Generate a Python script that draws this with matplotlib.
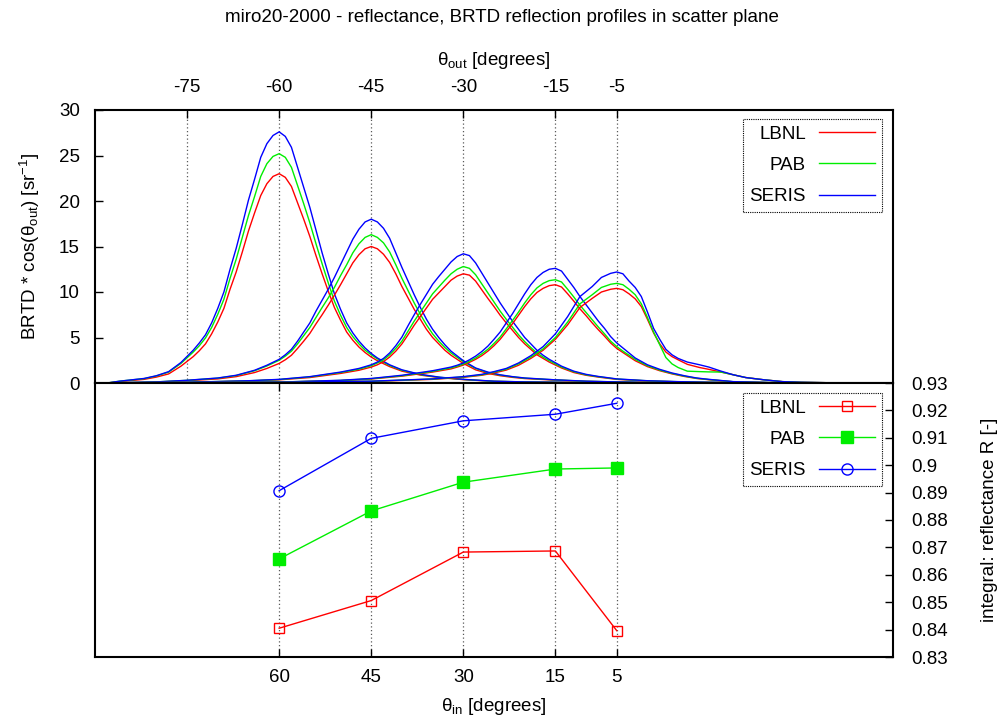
import numpy as np
import matplotlib
matplotlib.use("Agg")
import matplotlib.pyplot as plt
from matplotlib import ticker

plt.rcParams['font.family'] = ['Liberation Sans', 'DejaVu Sans']
plt.rcParams['font.size'] = 13.5
plt.rcParams['mathtext.default'] = 'regular'
plt.rcParams['axes.unicode_minus'] = False

# ---- BRTD profiles (theta_out in degrees, BRTD*cos(theta_out) in 1/sr) ----
out_60 = [-88, -86, -84, -82, -80, -78, -76, -74,
          -73, -72, -71, -70, -69, -68, -67, -66, -65, -64,
          -63, -62, -61, -60, -59, -58, -57, -56, -55, -54,
          -53, -52, -51, -50, -49, -48, -47, -46, -45, -44,
          -42, -40, -37, -34, -30, -25, -20, -10, 0]
seris_60 = [0.0, 0.2, 0.35, 0.5, 0.8, 1.25, 2.25, 3.6,
            4.4, 5.3, 6.6, 8.2, 10.0, 12.5, 14.8, 17.4, 20.1, 22.4,
            24.8, 26.3, 27.2, 27.6, 27.1, 25.9, 23.7, 21.5, 19.3, 16.8,
            14.3, 12.0, 9.8, 8.1, 6.6, 5.5, 4.6, 3.85, 3.25, 2.75,
            2.0, 1.45, 0.95, 0.65, 0.4, 0.2, 0.12, 0.04, 0.0]
pab_60 = [0.0, 0.2, 0.34, 0.48, 0.77, 1.2, 2.15, 3.4,
          4.1, 4.95, 6.1, 7.55, 9.2, 11.5, 13.6, 16.0, 18.4, 20.5,
          22.7, 24.1, 24.9, 25.2, 24.8, 23.7, 21.7, 19.7, 17.6, 15.3,
          13.1, 11.0, 9.0, 7.45, 6.1, 5.1, 4.3, 3.6, 3.1, 2.65,
          1.93, 1.4, 0.92, 0.63, 0.39, 0.19, 0.12, 0.04, 0.0]
lbnl_60 = [0.0, 0.15, 0.28, 0.4, 0.65, 1.0, 1.85, 2.9,
           3.55, 4.3, 5.4, 6.7, 8.2, 10.3, 12.2, 14.4, 16.7, 18.7,
           20.6, 21.9, 22.7, 23.0, 22.6, 21.6, 19.8, 18.0, 16.1, 14.0,
           12.0, 10.1, 8.3, 6.9, 5.6, 4.7, 3.95, 3.35, 2.85, 2.45,
           1.8, 1.3, 0.87, 0.6, 0.37, 0.18, 0.11, 0.04, 0.0]

out_45 = [-85, -80, -75, -70, -67, -64, -62, -60,
          -59, -58, -57, -56, -55, -54, -53, -52, -51, -50,
          -49, -48, -47, -46, -45, -44, -43, -42, -41, -40,
          -39, -38, -37, -36, -35, -34, -33, -32,
          -30, -28, -26, -24, -22, -20, -15, -10, -5, 0, 10, 20]
seris_45 = [0.05, 0.12, 0.3, 0.55, 0.85, 1.4, 1.95, 2.6,
            3.1, 3.7, 4.6, 5.6, 6.6, 7.9, 9.1, 10.3, 11.6, 13.0,
            14.4, 15.8, 16.9, 17.7, 18.0, 17.7, 17.0, 15.9, 14.3, 12.7,
            11.2, 9.7, 8.3, 7.0, 5.9, 5.0, 4.2, 3.5,
            2.45, 1.65, 1.2, 0.9, 0.7, 0.55, 0.35, 0.2, 0.12, 0.06, 0.02, 0.0]
pab_45 = [0.05, 0.12, 0.29, 0.53, 0.82, 1.35, 1.87, 2.5,
          2.95, 3.5, 4.3, 5.2, 6.1, 7.2, 8.3, 9.35, 10.5, 11.8,
          13.0, 14.3, 15.3, 16.0, 16.3, 16.0, 15.4, 14.4, 13.0, 11.5,
          10.15, 8.8, 7.55, 6.4, 5.4, 4.6, 3.9, 3.3,
          2.35, 1.6, 1.15, 0.87, 0.68, 0.53, 0.34, 0.19, 0.12, 0.06, 0.02, 0.0]
lbnl_45 = [0.04, 0.1, 0.25, 0.45, 0.7, 1.15, 1.6, 2.15,
           2.55, 3.05, 3.8, 4.6, 5.45, 6.5, 7.5, 8.55, 9.65, 10.8,
           12.0, 13.2, 14.1, 14.75, 15.0, 14.75, 14.15, 13.25, 12.0, 10.6,
           9.35, 8.1, 7.0, 5.9, 5.0, 4.3, 3.6, 3.05,
           2.15, 1.45, 1.05, 0.8, 0.62, 0.49, 0.31, 0.18, 0.11, 0.05, 0.02, 0.0]

out_30 = [-85, -75, -65, -60, -55, -50, -47, -45, -44,
          -43, -42, -41, -40, -39, -38, -37, -36, -35, -34,
          -33, -32, -31, -30, -29, -28, -27, -26, -25, -24,
          -23, -22, -21, -20, -19, -18, -17, -16,
          -14, -12, -10, -8, -5, 0, 5, 10, 20, 30]
seris_30 = [0.02, 0.08, 0.25, 0.4, 0.7, 1.2, 1.6, 2.0, 2.3,
            2.7, 3.3, 4.1, 5.05, 6.3, 7.5, 8.65, 9.75, 10.85, 11.7,
            12.5, 13.3, 13.9, 14.2, 14.0, 13.2, 12.1, 11.0, 9.9, 8.8,
            7.8, 6.8, 5.9, 5.0, 4.3, 3.6, 3.05, 2.6,
            1.85, 1.3, 0.95, 0.72, 0.45, 0.25, 0.15, 0.08, 0.03, 0.0]
pab_30 = [0.02, 0.08, 0.24, 0.38, 0.67, 1.15, 1.52, 1.9, 2.2,
          2.55, 3.1, 3.8, 4.6, 5.7, 6.8, 7.8, 8.8, 9.8, 10.55,
          11.3, 12.0, 12.5, 12.8, 12.6, 11.9, 10.9, 9.9, 8.9, 7.9,
          7.0, 6.15, 5.3, 4.55, 3.9, 3.3, 2.85, 2.45,
          1.75, 1.24, 0.9, 0.69, 0.43, 0.24, 0.14, 0.08, 0.03, 0.0]
lbnl_30 = [0.02, 0.07, 0.22, 0.35, 0.6, 1.05, 1.4, 1.75, 2.0,
           2.35, 2.85, 3.5, 4.3, 5.3, 6.35, 7.3, 8.25, 9.2, 9.9,
           10.6, 11.3, 11.75, 12.0, 11.85, 11.2, 10.25, 9.3, 8.4, 7.45,
           6.6, 5.8, 5.0, 4.3, 3.7, 3.1, 2.7, 2.3,
           1.65, 1.15, 0.85, 0.65, 0.4, 0.22, 0.13, 0.07, 0.03, 0.0]

out_15 = [-80, -70, -60, -50, -45, -40, -35, -32,
          -31, -30, -29, -28, -27, -26, -25, -24, -23, -22,
          -21, -20, -19, -18, -17, -16, -15, -14, -13, -12,
          -11, -10, -9, -8, -7, -6, -5, -4,
          -2, 0, 2, 4, 6, 8, 10, 14, 20, 30]
seris_15 = [0.02, 0.05, 0.1, 0.3, 0.5, 0.85, 1.35, 1.75,
            1.95, 2.2, 2.55, 2.95, 3.45, 4.05, 4.8, 5.6, 6.6, 7.6,
            8.7, 9.8, 10.8, 11.6, 12.15, 12.5, 12.6, 12.3, 11.4, 10.5,
            9.5, 8.6, 7.7, 6.8, 6.0, 5.1, 4.4, 3.85,
            2.75, 2.0, 1.5, 1.1, 0.8, 0.55, 0.4, 0.15, 0.05, 0.0]
pab_15 = [0.02, 0.05, 0.1, 0.28, 0.47, 0.8, 1.28, 1.66,
          1.85, 2.08, 2.4, 2.75, 3.2, 3.7, 4.35, 5.05, 5.95, 6.85,
          7.8, 8.8, 9.7, 10.45, 10.95, 11.25, 11.35, 11.1, 10.3, 9.45,
          8.55, 7.75, 6.95, 6.15, 5.4, 4.6, 4.0, 3.5,
          2.6, 1.9, 1.42, 1.05, 0.76, 0.52, 0.38, 0.14, 0.05, 0.0]
lbnl_15 = [0.02, 0.04, 0.09, 0.26, 0.44, 0.75, 1.2, 1.55,
           1.75, 1.97, 2.27, 2.6, 3.0, 3.5, 4.1, 4.8, 5.65, 6.5,
           7.45, 8.4, 9.25, 9.95, 10.4, 10.7, 10.8, 10.55, 9.8, 9.0,
           8.15, 7.4, 6.6, 5.85, 5.15, 4.4, 3.8, 3.35,
           2.45, 1.8, 1.35, 1.0, 0.72, 0.5, 0.36, 0.13, 0.04, 0.0]

out_5 = [-80, -60, -45, -35, -30, -27, -25, -23, -21, -19,
         -17, -15, -13, -11, -9, -7.5, -6, -5, -4, -3,
         -2, -1, 0, 1, 2, 3, 4, 5, 6.5, 8.5,
         10, 12, 14, 16, 19, 22, 25, 32]
seris_5 = [0.02, 0.08, 0.2, 0.45, 0.7, 0.95, 1.25, 1.6, 2.2, 3.0,
           4.0, 5.4, 7.3, 9.5, 10.6, 11.6, 12.05, 12.2, 12.0, 11.2,
           10.5, 9.5, 7.8, 6.0, 4.8, 3.7, 3.1, 2.7, 2.3, 2.0,
           1.75, 1.3, 0.9, 0.6, 0.35, 0.15, 0.08, 0.0]
pab_5 = [0.02, 0.08, 0.19, 0.43, 0.67, 0.9, 1.2, 1.52, 2.1, 2.85,
         3.75, 5.0, 6.7, 8.7, 9.7, 10.5, 10.85, 10.95, 10.8, 10.3,
         9.7, 8.7, 7.2, 5.6, 4.2, 2.8, 2.1, 1.7, 1.3, 1.25,
         1.22, 1.2, 0.9, 0.6, 0.35, 0.15, 0.08, 0.0]
lbnl_5 = [0.02, 0.07, 0.17, 0.4, 0.62, 0.85, 1.1, 1.42, 1.95, 2.7,
          3.6, 4.8, 6.4, 8.3, 9.3, 10.0, 10.3, 10.4, 10.25, 9.8,
          9.25, 8.4, 7.0, 5.5, 4.3, 3.4, 2.9, 2.55, 2.05, 1.7,
          1.5, 1.2, 0.9, 0.6, 0.35, 0.15, 0.08, 0.0]

# ---- integral reflectance ----
theta_in = [60, 45, 30, 15, 5]
R_lbnl = [0.8405, 0.8506, 0.8683, 0.8687, 0.8396]
R_pab = [0.8658, 0.8833, 0.8938, 0.8986, 0.8990]
R_seris = [0.8907, 0.9098, 0.9162, 0.9186, 0.9226]

top_ticks = [-75, -60, -45, -30, -15, -5]

red, green, blue = '#ff0000', '#00ee00', '#0000ff'
labels = ['LBNL', 'PAB', 'SERIS']

fig = plt.figure(figsize=(10.04, 7.22), dpi=100)
ax1 = fig.add_axes([95 / 1004, (722 - 383) / 722, 798 / 1004, 273 / 722])
ax2 = fig.add_axes([95 / 1004, (722 - 657) / 722, 798 / 1004, 274 / 722])

# top panel: profiles
outs = [out_60, out_45, out_30, out_15, out_5]
series = [(lbnl_60, pab_60, seris_60), (lbnl_45, pab_45, seris_45), (lbnl_30, pab_30, seris_30),
          (lbnl_15, pab_15, seris_15), (lbnl_5, pab_5, seris_5)]
for x, ys in zip(outs, series):
    for y, c in zip(ys, [red, green, blue]):
        ax1.plot(x, y, color=c, lw=1.0)
for xv in top_ticks:
    ax1.axvline(xv, color='0.35', ls=(0, (1, 2)), lw=0.9, zorder=0)

ax1.set_xlim(-90, 40)
ax1.set_ylim(0, 30)
ax1.xaxis.tick_top()
ax1.xaxis.set_label_position('top')
ax1.set_xticks(top_ticks)
ax1.set_yticks(np.arange(0, 31, 5))
ax1.tick_params(axis='x', direction='in', length=6, width=1, pad=10, top=True, bottom=False)
ax1.tick_params(axis='y', direction='in', length=6, width=1, pad=11, left=True, right=False)
ax1.set_xlabel('θ$_{out}$ [degrees]', labelpad=10)
ax1.set_ylabel('BRTD * cos(θ$_{out}$) [sr$^{-1}$]', labelpad=12)

h = [plt.Line2D([], [], color=c, lw=1.0) for c in [red, green, blue]]
leg1 = ax1.legend(h, labels, loc='upper right', bbox_to_anchor=(0.9862, 0.967), borderaxespad=0,
                  markerfirst=False, handlelength=3.0, fancybox=False, framealpha=1,
                  edgecolor='k', labelspacing=0.75, borderpad=0.35, handletextpad=0.7)
leg1.get_frame().set_linestyle((0, (1, 1)))
leg1.get_frame().set_linewidth(0.8)

# bottom panel: integral reflectance
ax2.plot(theta_in, R_lbnl, color=red, lw=1.0, marker='s', ms=7, mfc='none', mec=red, mew=1.0,
         label='LBNL')
ax2.plot(theta_in, R_pab, color=green, lw=1.0, marker='s', ms=8, mfc=green, mec=green, label='PAB')
ax2.plot(theta_in, R_seris, color=blue, lw=1.0, marker='o', ms=8, mfc='none', mec=blue, mew=1.0,
         label='SERIS')
for xv in theta_in:
    ax2.axvline(xv, color='0.35', ls=(0, (1, 2)), lw=0.9, zorder=0)

ax2.set_xlim(90, -40)
ax2.set_ylim(0.83, 0.93)
ax2.set_xticks(theta_in)
ax2.yaxis.tick_right()
ax2.yaxis.set_label_position('right')
ax2.set_yticks(np.arange(0.83, 0.9301, 0.01))
ax2.yaxis.set_major_formatter(ticker.FormatStrFormatter('%g'))
ax2.tick_params(axis='x', direction='in', length=6, width=1, pad=9, top=True, bottom=True)
ax2.tick_params(axis='y', direction='in', length=6, width=1, pad=13, left=False, right=True)
ax2.set_xlabel('θ$_{in}$ [degrees]', labelpad=7)
ax2.set_ylabel('integral: reflectance R [-]', labelpad=24)

leg2 = ax2.legend(loc='upper right', bbox_to_anchor=(0.9862, 0.9635), borderaxespad=0,
                  markerfirst=False, handlelength=3.0, numpoints=1, fancybox=False, framealpha=1,
                  edgecolor='k', labelspacing=0.75, borderpad=0.35, handletextpad=0.7)
leg2.get_frame().set_linestyle((0, (1, 1)))
leg2.get_frame().set_linewidth(0.8)

for ax in (ax1, ax2):
    for sp in ax.spines.values():
        sp.set_linewidth(1.5)

fig.suptitle('miro20-2000 - reflectance, BRTD reflection profiles in scatter plane',
             y=1 - 18 / 722, va='center', fontsize=13.5)

fig.savefig('out.png', dpi=100)
